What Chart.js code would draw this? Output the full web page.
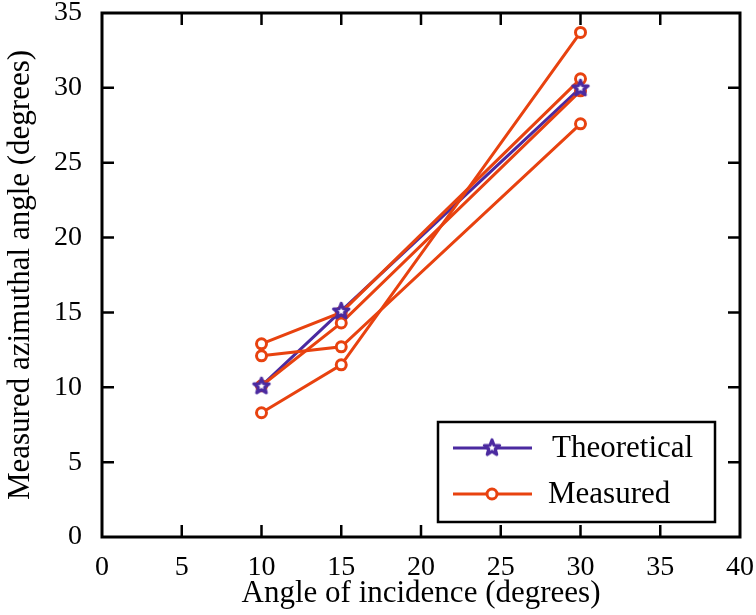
<!DOCTYPE html>
<html>
<head>
<meta charset="utf-8">
<script src="https://cdn.jsdelivr.net/npm/chart.js@4.4.0/dist/chart.umd.min.js"></script>
<style>
  body { margin: 0; background: #fff; }
  #wrap { width: 756px; height: 615px; }
</style>
</head>
<body>
<div id="wrap"><canvas id="chart"></canvas></div>
<script>
  const angles = [10, 15, 30];
  const theoretical = [10.1, 15.1, 30.0];
  const measured1 = [12.9, 15.0, 30.6];
  const measured2 = [10.1, 14.3, 29.8];
  const measured3 = [12.1, 12.7, 27.6];
  const measured4 = [8.3, 11.5, 33.7];
  const xTicks = [0, 5, 10, 15, 20, 25, 30, 35, 40];
  const yTicks = [0, 5, 10, 15, 20, 25, 30, 35];

  const orange = "#e8420f";
  const purple = "#4b2aa0";
  const serif = '"Liberation Serif", "Times New Roman", serif';

  function toPoints(values) {
    return angles.map((a, i) => ({ x: a, y: values[i] }));
  }

  // five pointed star marker, outlined
  function makeStar() {
    const c = document.createElement("canvas");
    c.width = 22;
    c.height = 22;
    const g = c.getContext("2d");
    g.beginPath();
    for (let i = 0; i < 10; i++) {
      const r = i % 2 === 0 ? 8 : 3.4;
      const ang = -Math.PI / 2 + (i * Math.PI) / 5;
      const px = 11 + r * Math.cos(ang);
      const py = 11.5 + r * Math.sin(ang);
      if (i === 0) g.moveTo(px, py);
      else g.lineTo(px, py);
    }
    g.closePath();
    g.fillStyle = "#fff";
    g.fill();
    g.lineWidth = 3.2;
    g.lineJoin = "round";
    g.strokeStyle = purple;
    g.stroke();
    return c;
  }
  const star = makeStar();

  function measuredSet(values) {
    return {
      data: toPoints(values),
      borderColor: orange,
      borderWidth: 3,
      pointStyle: "circle",
      pointRadius: 5,
      pointBorderWidth: 3,
      pointBackgroundColor: "#fff",
      pointBorderColor: orange,
      tension: 0,
    };
  }

  // drop the padding chart.js adds for overhanging tick labels
  function noPadding(s) {
    s.paddingTop = 0;
    s.paddingBottom = 0;
    s.paddingLeft = 0;
    s.paddingRight = 0;
  }

  const framePlugin = {
    id: "frame",
    afterDatasetsDraw(chart) {
      const { ctx, chartArea: a, scales } = chart;
      const x = scales.x;
      const y = scales.y;
      ctx.save();
      ctx.strokeStyle = "#000";
      ctx.lineWidth = 3;
      ctx.strokeRect(a.left, a.top, a.right - a.left, a.bottom - a.top);
      ctx.lineWidth = 2.5;
      ctx.beginPath();
      x.ticks.forEach((t) => {
        const px = x.getPixelForValue(t.value);
        if (px <= a.left + 2 || px >= a.right - 2) return;
        ctx.moveTo(px, a.bottom);
        ctx.lineTo(px, a.bottom - 12);
        ctx.moveTo(px, a.top);
        ctx.lineTo(px, a.top + 12);
      });
      y.ticks.forEach((t) => {
        const py = y.getPixelForValue(t.value);
        if (py <= a.top + 2 || py >= a.bottom - 2) return;
        ctx.moveTo(a.left, py);
        ctx.lineTo(a.left + 12, py);
        ctx.moveTo(a.right, py);
        ctx.lineTo(a.right - 12, py);
      });
      ctx.stroke();

      // legend box in the lower right corner
      const bx = a.right - 302;
      const by = a.bottom - 115;
      ctx.fillStyle = "#fff";
      ctx.fillRect(bx, by, 277, 100);
      ctx.lineWidth = 2.5;
      ctx.strokeRect(bx, by, 277, 100);

      ctx.lineWidth = 3;
      ctx.strokeStyle = purple;
      ctx.beginPath();
      ctx.moveTo(bx + 15, by + 26);
      ctx.lineTo(bx + 94, by + 26);
      ctx.stroke();
      ctx.drawImage(star, bx + 54 - 11, by + 26 - 11.5);

      ctx.strokeStyle = orange;
      ctx.beginPath();
      ctx.moveTo(bx + 15, by + 72);
      ctx.lineTo(bx + 94, by + 72);
      ctx.stroke();
      ctx.beginPath();
      ctx.arc(bx + 54, by + 72, 5, 0, Math.PI * 2);
      ctx.fillStyle = "#fff";
      ctx.fill();
      ctx.lineWidth = 3;
      ctx.stroke();

      ctx.fillStyle = "#000";
      ctx.font = "31px " + serif;
      ctx.textBaseline = "middle";
      ctx.textAlign = "left";
      ctx.fillText("Theoretical", bx + 114, by + 27);
      ctx.fillText("Measured", bx + 110, by + 73);
      ctx.restore();
    },
  };

  const chartConfig = {
    type: "line",
    data: {
      datasets: [
        {
          data: toPoints(theoretical),
          showLine: false,
          pointStyle: star,
          pointRadius: 8,
        },
        measuredSet(measured1),
        measuredSet(measured2),
        measuredSet(measured3),
        measuredSet(measured4),
        {
          data: toPoints(theoretical),
          borderColor: purple,
          borderWidth: 3,
          pointRadius: 0,
        },
      ],
    },
    options: {
      responsive: true,
      maintainAspectRatio: false,
      animation: false,
      layout: { padding: { left: 0, right: 16, top: 13, bottom: 0 } },
      plugins: { legend: { display: false }, tooltip: { enabled: false } },
      scales: {
        x: {
          type: "linear",
          min: 0,
          max: 40,
          afterBuildTicks: (s) => {
            s.ticks = xTicks.map((v) => ({ value: v }));
          },
          afterFit: (s) => {
            s.height = 78;
            noPadding(s);
          },
          grid: { display: false, drawTicks: false },
          border: { display: false },
          ticks: {
            padding: 14,
            color: "#000",
            font: { family: serif, size: 28 },
          },
          title: {
            display: true,
            text: "Angle of incidence (degrees)",
            color: "#000",
            font: { family: serif, size: 31 },
            padding: { top: 0, bottom: 3 },
          },
        },
        y: {
          type: "linear",
          min: 0,
          max: 35,
          afterBuildTicks: (s) => {
            s.ticks = yTicks.map((v) => ({ value: v }));
          },
          afterFit: (s) => {
            s.width = 102;
            noPadding(s);
          },
          grid: { display: false, drawTicks: false },
          border: { display: false },
          ticks: {
            padding: 20,
            color: "#000",
            font: { family: serif, size: 28 },
          },
          title: {
            display: true,
            text: "Measured azimuthal angle (degrees)",
            color: "#000",
            font: { family: serif, size: 31 },
            padding: { top: 2, bottom: 0 },
          },
        },
      },
    },
    plugins: [framePlugin],
  };

  new Chart(document.getElementById("chart"), chartConfig);
</script>
</body>
</html>
